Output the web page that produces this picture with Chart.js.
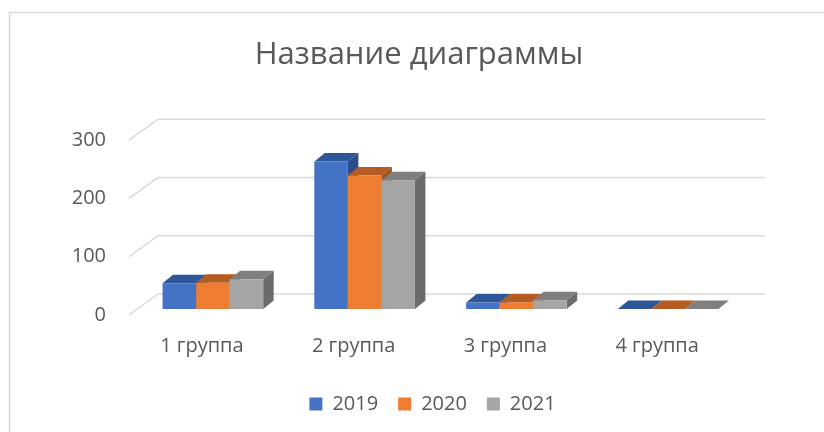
<!DOCTYPE html>
<html>
<head>
<meta charset="utf-8">
<script src="https://cdn.jsdelivr.net/npm/chart.js@4.4.1/dist/chart.umd.min.js"></script>
<style>
  body { margin: 0; background: #fff; }
</style>
</head>
<body>
<canvas id="graficoGrupos" width="824" height="432"></canvas>
<script>
// dados
const categorias = ['1 группа', '2 группа', '3 группа', '4 группа'];
const anos = ['2019', '2020', '2021'];
const valores2019 = [44, 253, 11, 0];
const valores2020 = [45, 229, 11, 0];
const valores2021 = [51, 221, 15, 0];
const ticksY = [0, 100, 200, 300];

// cores: frente, topo e lateral de cada serie
const coresFrente = ['#4472C4', '#ED7D31', '#A5A5A5'];
const coresTopo = ['#30569A', '#B65B21', '#7F7F7F'];
const coresLado = ['#2B4C88', '#A0501C', '#6B6B6B'];

const corTexto = '#595959';
const corGrade = '#D9D9D9';
const fonte = "'Open Sans', 'Noto Sans', sans-serif";

// profundidade do "3D" (px)
const PROF_X = 29, PROF_Y = 21;      // parede do fundo
const BARRA_X = 8, BARRA_Y = -6;     // plano das barras
const TOPO_X = 10.5, TOPO_Y = 8.5;   // espessura das barras
const TITULO_DX = 15;                // titulo do Excel fica um pouco a direita

const efeito3D = {
    id: 'efeito3D',
    afterLayout(chart) {
        chart.titleBlock.left += TITULO_DX;
        chart.titleBlock.right += TITULO_DX;
    },
    beforeDraw(chart) {
        const ctx = chart.ctx;
        ctx.save();
        ctx.fillStyle = '#fff';
        ctx.fillRect(0, 0, chart.width, chart.height);
        // moldura do grafico
        ctx.strokeStyle = corGrade;
        ctx.lineWidth = 1.5;
        ctx.strokeRect(9.5, 12.5, chart.width + 20, chart.height + 20);
        ctx.restore();
    },
    beforeDatasetsDraw(chart) {
        const ctx = chart.ctx;
        const area = chart.chartArea;
        const escalaY = chart.scales.y;

        // grade: diagonal na frente + linha no fundo
        ctx.save();
        ctx.strokeStyle = corGrade;
        ctx.lineWidth = 1.5;
        escalaY.ticks.forEach(function (t) {
            const yFrente = escalaY.getPixelForValue(t.value);
            ctx.beginPath();
            ctx.moveTo(area.left, yFrente);
            ctx.lineTo(area.left + PROF_X, yFrente - PROF_Y);
            ctx.lineTo(area.right + PROF_X, yFrente - PROF_Y);
            ctx.stroke();
        });
        ctx.restore();

        // barras ficam no meio da profundidade
        ctx.save();
        ctx.translate(BARRA_X, BARRA_Y);

        for (let i = 0; i < categorias.length; i++) {
            for (let d = 0; d < chart.data.datasets.length; d++) {
                const barra = chart.getDatasetMeta(d).data[i];
                const esq = barra.x - barra.width / 2;
                const dir = barra.x + barra.width / 2;

                // lateral
                ctx.fillStyle = coresLado[d];
                ctx.beginPath();
                ctx.moveTo(dir, barra.base);
                ctx.lineTo(dir, barra.y);
                ctx.lineTo(dir + TOPO_X, barra.y - TOPO_Y);
                ctx.lineTo(dir + TOPO_X, barra.base - TOPO_Y);
                ctx.closePath();
                ctx.fill();

                // topo
                ctx.fillStyle = coresTopo[d];
                ctx.beginPath();
                ctx.moveTo(esq, barra.y);
                ctx.lineTo(dir, barra.y);
                ctx.lineTo(dir + TOPO_X, barra.y - TOPO_Y);
                ctx.lineTo(esq + TOPO_X, barra.y - TOPO_Y);
                ctx.closePath();
                ctx.fill();
            }
        }
        // a frente das barras e desenhada pelo Chart.js com o mesmo deslocamento
    },
    afterDatasetsDraw(chart) {
        chart.ctx.restore();
    }
};

const series = [valores2019, valores2020, valores2021];

const dados = {
    labels: categorias,
    datasets: anos.map(function (ano, d) {
        return {
            label: ano,
            data: series[d],
            backgroundColor: coresFrente[d],
            borderWidth: 0,
            categoryPercentage: 0.663,
            barPercentage: 1,
            clip: false
        };
    })
};

const config = {
    type: 'bar',
    data: dados,
    options: {
        responsive: false,
        animation: false,
        devicePixelRatio: 1,
        layout: { padding: { left: 72, right: 88, top: 0, bottom: 8 } },
        scales: {
            x: {
                grid: { display: false },
                border: { display: false },
                ticks: {
                    color: corTexto,
                    font: { family: fonte, size: 20 },
                    padding: 11,
                    labelOffset: -3,
                    maxRotation: 0
                },
                afterFit(scale) { scale.height = 59; }
            },
            y: {
                min: ticksY[0],
                max: ticksY[ticksY.length - 1],
                grid: { display: false, drawTicks: false },
                border: { display: false },
                ticks: {
                    stepSize: ticksY[1] - ticksY[0],
                    color: corTexto,
                    font: { family: fonte, size: 20 },
                    padding: 23
                },
                afterFit(scale) { scale.width = 57; }
            }
        },
        plugins: {
            title: {
                display: true,
                text: 'Название диаграммы',
                color: corTexto,
                font: { family: fonte, size: 31, weight: 'normal' },
                padding: { top: 37, bottom: 66 }
            },
            legend: {
                position: 'bottom',
                fullSize: false,
                labels: {
                    color: corTexto,
                    font: { family: fonte, size: 20 },
                    boxWidth: 13,
                    boxHeight: 13,
                    padding: 20
                }
            },
            tooltip: { enabled: false }
        }
    },
    plugins: [efeito3D]
};

let graficoGrupos = new Chart(document.getElementById('graficoGrupos'), config);
</script>
</body>
</html>
